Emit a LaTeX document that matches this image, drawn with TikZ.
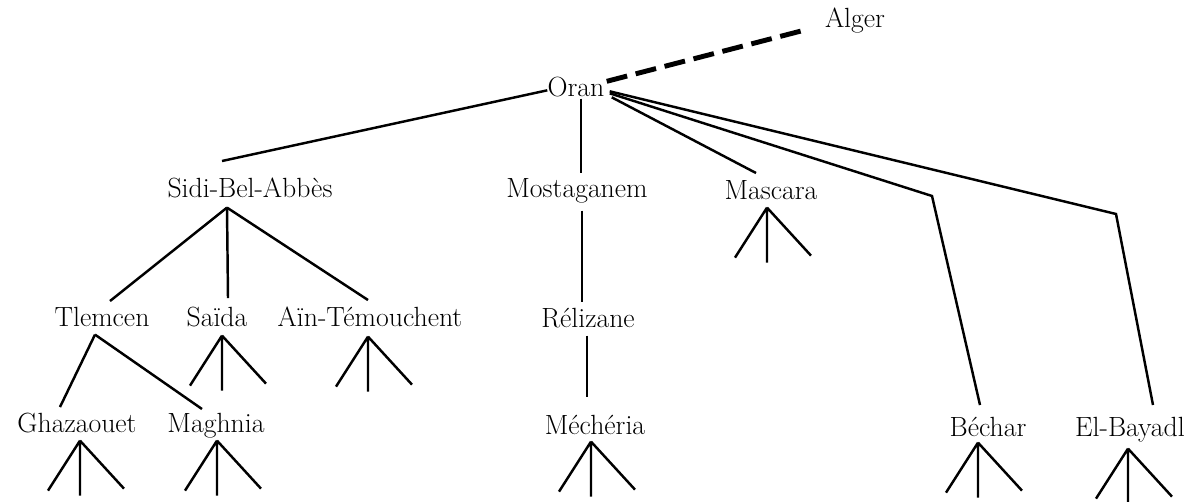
\documentclass[tikz,border=0pt]{standalone}
\usepackage{fontspec}
\usepackage{tikz}
\usetikzlibrary{calc,positioning}

\newcommand{\subfan}[2]{%
    \coordinate (#1-top) at ($(#1.south)+(#2)$);
    \draw[link] (#1-top) -- +(-32,50) (#1-top) -- +(0,55) (#1-top) -- +(44,48);}

\begin{document}
\begin{tikzpicture}[x=0.02cm,y=-0.02cm,
    city/.style={font=\fontsize{15.8}{18}\selectfont,inner sep=0pt,text height=10.6pt,text depth=3pt,anchor=base},
    link/.style={line width=1.4pt},
    rail/.style={line width=2.8pt,dash pattern=on 12pt off 5pt}]
    \useasboundingbox (0,0) rectangle (1203,502);
    \node[city] (alger) at (855,28) {Alger};
    \node[city] (oran) at (576,97) {Oran};
    \node[city] (sba) at (250,198) {Sidi-Bel-Abbès};
    \node[city] (most) at (577,198) {Mostaganem};
    \node[city] (masc) at (771,200) {Mascara};
    \node[city] (tlem) at (102,327) {Tlemcen};
    \node[city] (saida) at (217,327) {Saïda};
    \node[city] (ain) at (370,327) {Aïn-Témouchent};
    \node[city] (reli) at (588,328) {Rélizane};
    \node[city] (ghaz) at (77,433) {Ghazaouet};
    \node[city] (magh) at (216,433) {Maghnia};
    \node[city] (mech) at (595,435) {Méchéria};
    \node[city] (bech) at (988,437) {Béchar};
    \node[city] (elb) at (1130,437) {El-Bayadl};
    \coordinate (bendb) at (932,196);
    \coordinate (bende) at (1116,214);
    \draw[rail] ($(oran.east)+(2,-9)$) -- ($(alger.west)+(-17,8)$);
    \draw[link] (oran.west) -- ($(sba.north)+(-28,-18)$);
    \draw[link] ($(oran.south)+(5,-4)$) -- ($(most.north)+(4,-6)$);
    \draw[link] ($(oran.east)+(7,7)$) -- ($(masc.north)+(-15,-8)$);
    \draw[link] ($(oran.east)+(5,3)$) -- (bendb) -- ($(bech.north)+(-8,-13)$);
    \draw[link] ($(oran.east)+(5,1)$) -- (bende) -- ($(elb.north)+(23,-13)$);
    \coordinate (sba-fork) at ($(sba.south)+(-23,4)$);
    \draw[link] (sba-fork) -- ($(tlem.north)+(8,-7)$);
    \draw[link] (sba-fork) -- ($(saida.north)+(11,-10)$);
    \draw[link] (sba-fork) -- ($(ain.north)+(-2,-8)$);
    \coordinate (tlem-fork) at ($(tlem.south)+(-7,2)$);
    \draw[link] (tlem-fork) -- ($(ghaz.north)+(-17,-7)$);
    \draw[link] (tlem-fork) -- ($(magh.north)+(-14,-5)$);
    \draw[link] ($(most.south)+(5,7)$) -- ($(reli.north)+(-6,-7)$);
    \draw[link] ($(reli.south)+(-1,2)$) -- ($(mech.north)+(-8,-19)$);
    \subfan{saida}{5,3}
    \subfan{ain}{-2,4}
    \subfan{ghaz}{3,2}
    \subfan{magh}{1,2}
    \subfan{mech}{-4,1}
    \subfan{masc}{-4,2}
    \subfan{bech}{-10,0}
    \subfan{elb}{-2,6}
\end{tikzpicture}
\end{document}
